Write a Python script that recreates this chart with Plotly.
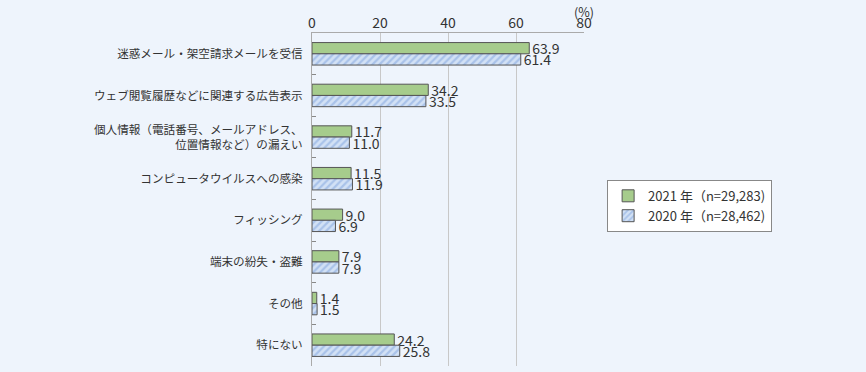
import plotly.graph_objects as go

categories = [
    "迷惑メール・架空請求メールを受信",
    "ウェブ閲覧履歴などに関連する広告表示",
    "個人情報（電話番号、メールアドレス、<br>位置情報など）の漏えい",
    "コンピュータウイルスへの感染",
    "フィッシング",
    "端末の紛失・盗難",
    "その他",
    "特にない",
]
values_2021 = [63.9, 34.2, 11.7, 11.5, 9.0, 7.9, 1.4, 24.2]
values_2020 = [61.4, 33.5, 11.0, 11.9, 6.9, 7.9, 1.5, 25.8]
series_names = ["2021 年（n=29,283)", "2020 年（n=28,462)"]
x_ticks = [0, 20, 40, 60, 80]

FONT = "Noto Sans CJK JP"
fig = go.Figure()
fig.add_trace(go.Bar(
    y=categories, x=values_2021, orientation="h", name=series_names[0],
    marker=dict(color="#A6CC8C", line=dict(color="#555555", width=1)),
    text=[f"{v:.1f}" for v in values_2021], textposition="outside", constraintext="none",
    textfont=dict(size=14, color="#333333", family=FONT), cliponaxis=False,
))
fig.add_trace(go.Bar(
    y=categories, x=values_2020, orientation="h", name=series_names[1],
    marker=dict(color="#C8DAF2", line=dict(color="#555555", width=1),
                pattern=dict(shape="/", fgcolor="#7FA3DD", bgcolor="#D2E1F5", size=5, solidity=0.45)),
    text=[f"{v:.1f}" for v in values_2020], textposition="outside", constraintext="none",
    textfont=dict(size=14, color="#333333", family=FONT), cliponaxis=False,
))

fig.update_layout(
    width=866, height=372,
    margin=dict(l=312, r=282, t=33, b=6),
    paper_bgcolor="#EEF4FC", plot_bgcolor="#EEF4FC",
    barmode="group", bargap=0.46, bargroupgap=0.0,
    font=dict(family=FONT, color="#333333", size=12),
    showlegend=True,
    legend=dict(x=1.085, y=0.559, xanchor="left", yanchor="top",
                bgcolor="#FFFFFF", bordercolor="#888888", borderwidth=1,
                font=dict(size=13, family=FONT), traceorder="normal",
                tracegroupgap=0, itemwidth=30),
)
fig.update_xaxes(side="top", range=[0, 80], tickvals=x_ticks, ticktext=[str(t) for t in x_ticks],
                 showgrid=True, gridcolor="#C8C8C8", gridwidth=1, zeroline=False,
                 showline=True, linecolor="#AAAAAA", linewidth=1, automargin=False,
                 tickfont=dict(size=14, color="#333333"), ticks="", fixedrange=True,
                 ticklabelstandoff=-2)
fig.update_yaxes(autorange="reversed", showline=True, linecolor="#AAAAAA", linewidth=1,
                 ticks="inside", ticklen=4, tickcolor="#888888", tickson="boundaries",
                 tickfont=dict(size=11.6, color="#333333"), showgrid=False,
                 ticklabelstandoff=6, automargin=False, fixedrange=True)
fig.add_annotation(text="(%)", xref="x", yref="paper", x=80, y=1, yshift=22,
                   showarrow=False, yanchor="middle", font=dict(size=12.5, color="#333333"),
                   xanchor="center")

fig.write_html("out.html", config={"displayModeBar": False},
               post_script="document.body.style.margin='0';document.body.style.background='#EEF4FC';")
